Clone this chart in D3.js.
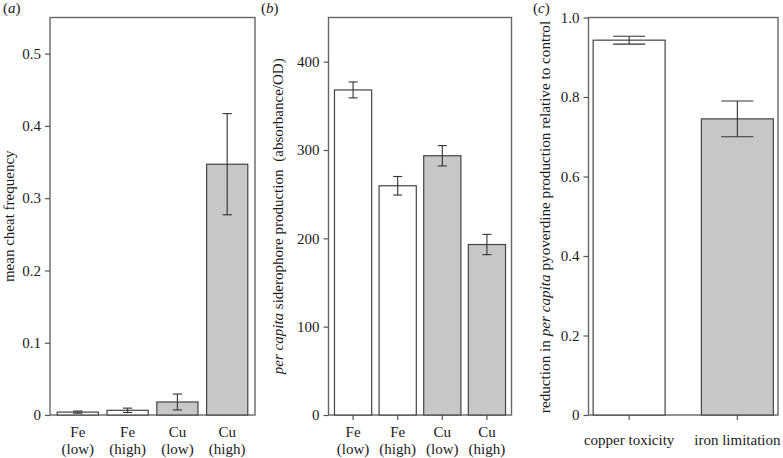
<!DOCTYPE html>
<html><head><meta charset="utf-8">
<script src="https://cdn.jsdelivr.net/npm/d3@7"></script>
<style>
body{margin:0;background:#fff;}
text{font-family:"Liberation Serif","Times New Roman",serif;fill:#1a1a1a;}
</style></head>
<body><svg id="chart" width="783" height="458"></svg>
<script>
// ---- data ----
const catsA = [["Fe","(low)"],["Fe","(high)"],["Cu","(low)"],["Cu","(high)"]];
const valsA = [0.004, 0.0065, 0.018, 0.347];
const errA  = [0.0015, 0.003, 0.011, 0.07];
const fillA = ["white","white","grey","grey"];
const ticksA = [0, 0.1, 0.2, 0.3, 0.4, 0.5];
const tickLabelsA = ["0","0.1","0.2","0.3","0.4","0.5"];

const catsB = [["Fe","(low)"],["Fe","(high)"],["Cu","(low)"],["Cu","(high)"]];
const valsB = [368, 259.5, 293.5, 193];
const errB  = [9, 10.5, 11.5, 11.5];
const fillB = ["white","white","grey","grey"];
const ticksB = [0, 100, 200, 300, 400];
const tickLabelsB = ["0","100","200","300","400"];

const catsC = [["copper toxicity"],["iron limitation"]];
const valsC = [0.943, 0.745];
const errC  = [0.01, 0.045];
const fillC = ["white","grey"];
const ticksC = [0, 0.2, 0.4, 0.6, 0.8, 1.0];
const tickLabelsC = ["0","0.2","0.4","0.6","0.8","1.0"];

const colors = {white:"#ffffff", grey:"#c6c7c9"};
const svg = d3.select("#chart");
const plotTop = 17.5, plotBottom = 415;
const FS = "15px";

function panel(o){
  const g = svg.append("g");
  const x = d3.scaleBand().domain(o.cats.map((d,i)=>i)).range([o.x0,o.x1])
      .paddingInner(o.pi).paddingOuter(o.po);
  const y = d3.scaleLinear().domain(o.domain).range([plotBottom, plotTop]);
  g.append("rect").attr("x",o.x0).attr("y",plotTop).attr("width",o.x1-o.x0).attr("height",plotBottom-plotTop)
    .attr("fill","none").attr("stroke","#666").attr("stroke-width",1.4);
  const ya = g.append("g").attr("transform",`translate(${o.x0},0)`)
    .call(d3.axisLeft(y).tickValues(o.ticks).tickFormat((d,i)=>o.tickLabels[i]).tickSize(5).tickPadding(4));
  ya.select(".domain").remove();
  ya.selectAll("line").attr("stroke","#555").attr("stroke-width",1.2);
  ya.selectAll("text").style("font-size",FS).attr("fill","#1a1a1a")
    .style("font-family","'Liberation Serif','Times New Roman',serif");
  if(o.xticks){
    const xa = g.append("g").attr("transform",`translate(0,${plotBottom})`)
      .call(d3.axisBottom(x).tickSize(5).tickFormat(""));
    xa.select(".domain").remove();
    xa.selectAll("line").attr("stroke","#555").attr("stroke-width",1.2);
  }
  g.selectAll(".bar").data(o.vals).enter().append("rect")
    .attr("x",(d,i)=>x(i)).attr("width",x.bandwidth())
    .attr("y",d=>y(d)).attr("height",d=>plotBottom-y(d))
    .attr("fill",(d,i)=>colors[o.fill[i]]).attr("stroke","#444").attr("stroke-width",1.2);
  o.vals.forEach((v,i)=>{
    const cx = x(i)+x.bandwidth()/2, e=o.err[i];
    const eg = g.append("g").attr("stroke","#333").attr("stroke-width",1.1);
    eg.append("line").attr("x1",cx).attr("x2",cx).attr("y1",y(v+e)).attr("y2",y(v-e));
    eg.append("line").attr("x1",cx-o.cap).attr("x2",cx+o.cap).attr("y1",y(v+e)).attr("y2",y(v+e));
    eg.append("line").attr("x1",cx-o.cap).attr("x2",cx+o.cap).attr("y1",y(v-e)).attr("y2",y(v-e));
  });
  o.cats.forEach((c,i)=>{
    const cx = x(i)+x.bandwidth()/2;
    const t = g.append("text").attr("text-anchor","middle").style("font-size",FS);
    if(c.length===2){
      t.append("tspan").attr("x",cx).attr("y",437).text(c[0]);
      t.append("tspan").attr("x",cx).attr("y",454).text(c[1]);
    } else {
      t.append("tspan").attr("x",cx).attr("y",445).text(c[0]);
    }
  });
  const yl = g.append("text").attr("text-anchor","middle").style("font-size",o.ylfs||FS)
    .attr("transform",`translate(${o.ylx},${o.ylc||(plotTop+plotBottom)/2}) rotate(-90)`);
  o.ylabel.forEach(p=>{
    const ts = yl.append("tspan").text(p.t);
    if(p.i) ts.style("font-style","italic");
    if(p.dx) ts.attr("dx",p.dx);
  });
  const pl = g.append("text").attr("x",o.lx).attr("y",13).style("font-size",FS);
  pl.append("tspan").text("(");
  pl.append("tspan").style("font-style","italic").text(o.letter);
  pl.append("tspan").text(")");
}

panel({cats:catsA, vals:valsA, err:errA, fill:fillA, ticks:ticksA, tickLabels:tickLabelsA,
  domain:[0,0.55], x0:50, x1:255, pi:0.173, po:0.145, cap:4.7, xticks:false,
  ylx:14, ylabel:[{t:"mean cheat frequency"}], lx:3, letter:"a"});
panel({cats:catsB, vals:valsB, err:errB, fill:fillB, ticks:ticksB, tickLabels:tickLabelsB,
  domain:[0,450], x0:328.5, x1:511.5, pi:0.166, po:0.134, cap:4.5, xticks:true,
  ylx:283, ylabel:[{t:"per capita",i:true},{t:" siderophore production"},{t:"(absorbance/OD)",dx:8}], lx:261, letter:"b"});
panel({cats:catsC, vals:valsC, err:errC, fill:fillC, ticks:ticksC, tickLabels:tickLabelsC,
  domain:[0,1.0], x0:588.5, x1:778, pi:0.335, po:0.043, cap:16, xticks:true,
  ylx:550, ylc:217, ylfs:"15.2px", ylabel:[{t:"reduction in "},{t:"per capita",i:true},{t:" pyoverdine production relative to control"}], lx:533, letter:"c"});
</script></body></html>
